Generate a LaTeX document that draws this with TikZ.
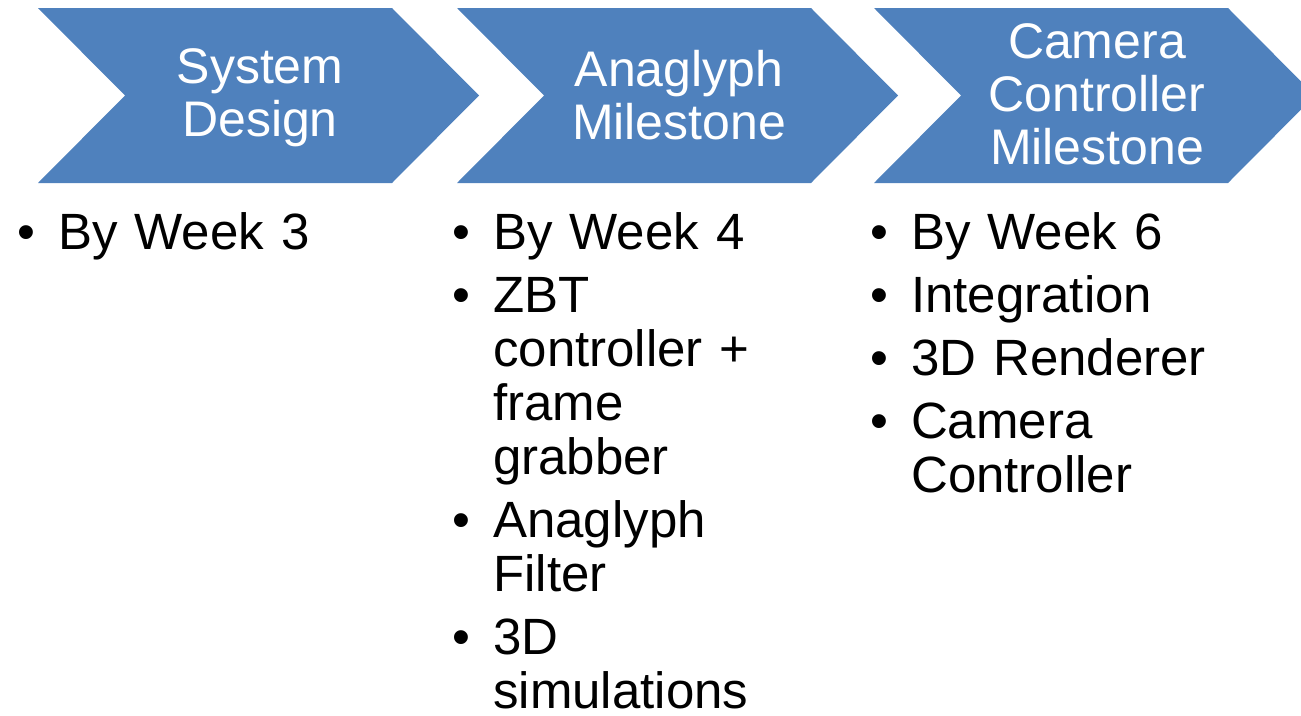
\documentclass[tikz,border=0pt]{standalone}
\usepackage{fontspec}
\setmainfont{Liberation Sans}
\usetikzlibrary{positioning}
\definecolor{StageBlue}{RGB}{79,129,189}
\newcommand{\bitem}[1]{\par\hangindent=41pt\hangafter=1\noindent\makebox[41pt][l]{\textbullet}#1\par}

\begin{document}
\begin{tikzpicture}[x=1pt,y=-1pt,
  stagetext/.style={text=white,align=center,inner sep=0pt,font=\fontsize{50}{53}\selectfont},
  todo/.style={anchor=base west,text width=340pt,align=left,inner sep=0pt,
    font=\fontsize{51}{54}\selectfont,execute at begin node={\setlength{\parskip}{9pt}}}]
  \useasboundingbox (0,0) rectangle (1301,715);
  % the three stages
  \foreach \dx in {0,419,836}
    \fill[StageBlue] (38+\dx,8) -- ++(354,0) -- ++(87,87.5) -- ++(-87,87.5)
      -- ++(-354,0) -- ++(87,-87.5) -- cycle;
  \node[stagetext] (design) at (260,97.5) {System\\Design};
  \node[stagetext] (anaglyph) at (679,95) {Anaglyph\\Milestone};
  \node[stagetext] (camera) at (1097,94) {Camera\\Controller\\Milestone};
  % what is due
  \node[todo] (week3) at (17,186) {\bitem{By Week 3}};
  \node[todo] (week4) at (452,186) {\bitem{By Week 4}\bitem{ZBT\newline controller +\newline frame\newline grabber}%
    \bitem{Anaglyph\newline Filter}\bitem{3D\newline simulations}};
  \node[todo] (week6) at (870,186) {\bitem{By Week 6}\bitem{Integration}\bitem{3D Renderer}%
    \bitem{Camera\newline Controller}};
\end{tikzpicture}
\end{document}
